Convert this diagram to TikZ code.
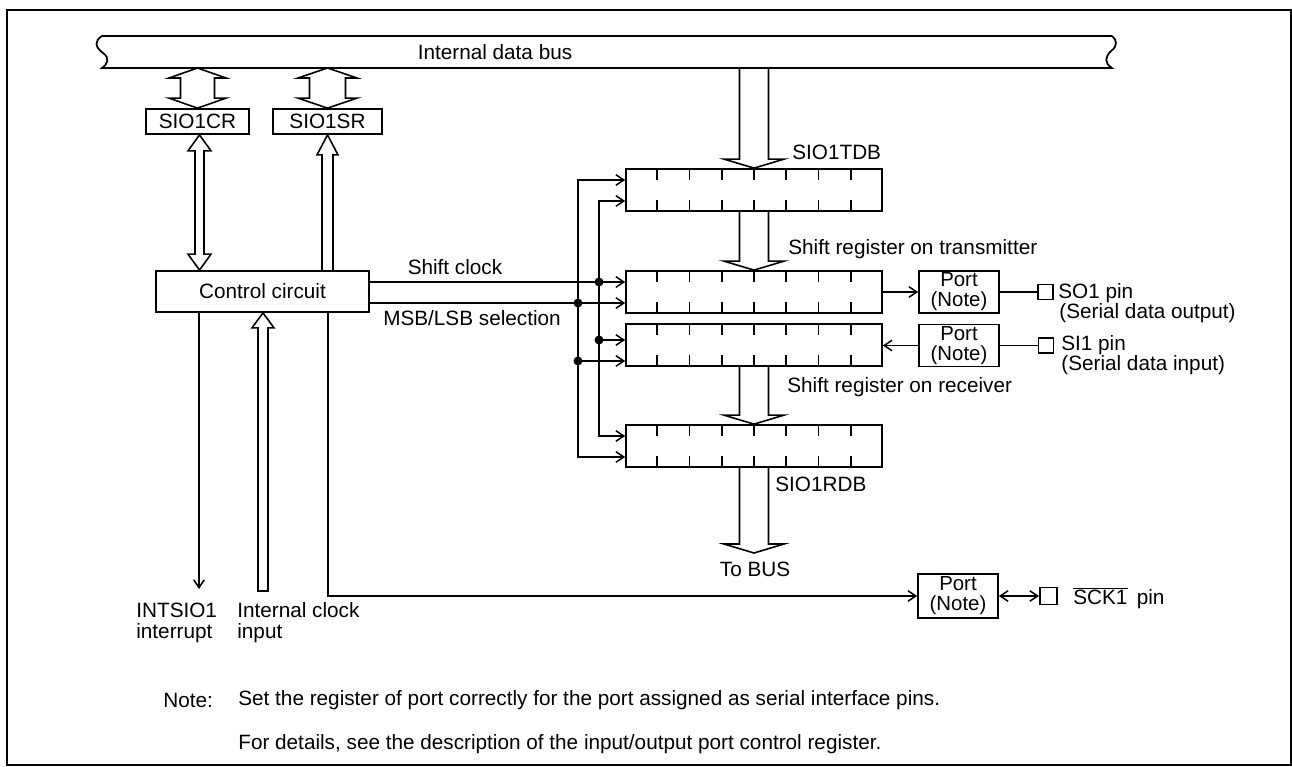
\documentclass[tikz,border=0pt]{standalone}
\usepackage{fontspec}
\setmainfont{Liberation Sans}
\usetikzlibrary{arrows.meta,calc}

\tikzset{
  lbl/.style={font=\fontsize{11.8}{12}\selectfont, inner sep=0pt},
  box/.style={draw, line width=1pt, inner sep=0pt, font=\fontsize{11.8}{12}\selectfont},
  reg/.style={draw, line width=1pt, minimum width=5.12cm, minimum height=0.84cm},
  port/.style={box, align=center, minimum width=1.6cm, minimum height=0.84cm,
    font=\fontsize{11.6}{11.3}\selectfont},
  pin/.style={draw, line width=1.1pt, minimum size=0.3cm, inner sep=0pt},
  hollow/.style={draw, line width=0.9pt},
  wire/.style={line width=0.85pt},
}

% hollow arrow from #1 down to its tip #2 (shaft half, head half, head length)
\newcommand{\fatdown}[5]{%
  \draw[hollow] let \p1=(#1), \p2=(#2) in
    (\x2-#3,\y1) -- (\x2-#3,\y2+#5) -- (\x2-#4,\y2+#5) -- (\x2,\y2)
    -- (\x2+#4,\y2+#5) -- (\x2+#3,\y2+#5) -- (\x2+#3,\y1);}
% hollow arrow from #1 up to its tip #2, #6 closes the tail
\newcommand{\fatup}[6]{%
  \draw[hollow] let \p1=(#1), \p2=(#2) in
    (\x2-#3,\y1) -- (\x2-#3,\y2-#5) -- (\x2-#4,\y2-#5) -- (\x2,\y2)
    -- (\x2+#4,\y2-#5) -- (\x2+#3,\y2-#5) -- (\x2+#3,\y1) #6;}
% hollow arrow with tips #1 (top) and #2 (bottom)
\newcommand{\fatboth}[5]{%
  \draw[hollow] let \p1=(#1), \p2=(#2) in
    (\x1,\y1) -- (\x1+#4,\y1-#5) -- (\x1+#3,\y1-#5) -- (\x1+#3,\y2+#5)
    -- (\x1+#4,\y2+#5) -- (\x1,\y2) -- (\x1-#4,\y2+#5) -- (\x1-#3,\y2+#5)
    -- (\x1-#3,\y1-#5) -- (\x1-#4,\y1-#5) -- cycle;}

\begin{document}
\begin{tikzpicture}[x=0.02cm, y=-0.02cm, >={Straight Barb[length=4.5pt,width=6pt]}]
\useasboundingbox (0,0) rectangle (1292,767);
\draw[line width=1pt] (7,10) rectangle (1291,765);

% internal data bus
\draw[line width=1pt] (1112,36) -- (102,36)
  .. controls (94,41) and (95,47) .. (103,53) .. controls (110,58) and (108,64) .. (102,68)
  -- (1112,68) .. controls (1104,63) and (1105,57) .. (1111,51) .. controls (1118,46) and (1117,40) .. (1112,36);
\node[lbl] (busl) at (495,52) {Internal data bus};
\coordinate (busb) at (0,68);

% registers and boxes
\node[box, minimum width=2.06cm, minimum height=0.5cm] (cr) at (197.5,121.5) {SIO1CR};
\node[box, minimum width=2.18cm, minimum height=0.5cm] (sr) at (327.5,121.5) {SIO1SR};
\node[box, minimum width=4.26cm, minimum height=0.82cm] (ctrl) at (262.5,291.5) {Control circuit};
\node[reg] (tdb) at (754,190) {};
\node[reg] (tx) at (754,292) {};
\node[reg] (rx) at (754,345) {};
\node[reg] (rdb) at (754,446) {};
\foreach \r in {tdb,tx,rx,rdb} {
  \foreach \i in {1,...,7} {
    \draw[line width=1pt] ($(\r.north west)!\i/8!(\r.north east)$) -- ++(0,12);
    \draw[line width=1pt] ($(\r.south west)!\i/8!(\r.south east)$) -- ++(0,-12);
  }
}
\node[port] (ptx) at (959,292) {Port\\(Note)};
\node[port] (prx) at (959,345.5) {Port\\(Note)};
\node[port, minimum height=0.88cm] (psck) at (958,596) {Port\\(Note)};
\node[pin] (so1) at (1045.5,292) {};
\node[pin] (si1) at (1046,345.5) {};
\node[pin, minimum size=0.34cm] (sck) at (1048.5,596) {};

% hollow bus arrows
\fatboth{cr.north |- busb}{cr.north}{0.34cm}{0.57cm}{0.2cm}
\fatboth{sr.north |- busb}{sr.north}{0.36cm}{0.59cm}{0.2cm}
\fatboth{[xshift=0.04cm]cr.south}{[xshift=0.04cm]cr.south |- ctrl.north}{0.09cm}{0.23cm}{0.32cm}
\fatup{sr.south |- ctrl.north}{sr.south}{0.11cm}{0.21cm}{0.4cm}{}
\coordinate (clkin) at (263,591);
\fatup{clkin}{clkin |- ctrl.south}{0.1cm}{0.22cm}{0.3cm}{-- cycle}
\fatdown{tdb.north |- busb}{tdb.north}{0.29cm}{0.6cm}{0.18cm}
\fatdown{tdb.south}{tx.north}{0.29cm}{0.6cm}{0.18cm}
\fatdown{rx.south}{rdb.north}{0.29cm}{0.6cm}{0.18cm}
\coordinate (tobus) at (754,553);
\fatdown{rdb.south}{tobus}{0.29cm}{0.6cm}{0.18cm}

% clock and selection lines
\coordinate (ox) at (578,0);
\coordinate (ix) at (599,0);
\coordinate (tdba) at ([yshift=0.2cm]tdb.west);
\coordinate (tdbb) at ([yshift=-0.22cm]tdb.west);
\coordinate (txa) at ([yshift=0.2cm]tx.west);
\coordinate (txb) at ([yshift=-0.22cm]tx.west);
\coordinate (rxa) at ([yshift=0.1cm]rx.west);
\coordinate (rxb) at ([yshift=-0.32cm]rx.west);
\coordinate (rdba) at ([yshift=0.2cm]rdb.west);
\coordinate (rdbb) at ([yshift=-0.22cm]rdb.west);
\draw[wire,<->] (tdba) -| (ox |- rdbb) -- (rdbb);
\draw[wire,<->] (tdbb) -| (ix |- rdba) -- (rdba);
\draw[wire,->] (ctrl.east |- txa) -- (txa);
\draw[wire,->] (ctrl.east |- txb) -- (txb);
\draw[wire,->] (ix |- rxa) -- (rxa);
\draw[wire,->] (ox |- rxb) -- (rxb);
\foreach \p in {ix |- txa, ox |- txb, ix |- rxa, ox |- rxb}
  \fill (\p) circle (0.09cm);

% ports and pins
\draw[wire,->] (tx.east) -- (ptx.west);
\draw[wire,->] (prx.west) -- (prx.west -| rx.east);
\draw[wire] (ptx.east) -- (so1.west);
\draw[wire] (prx.east) -- (si1.west);
\draw[wire,<->] (psck.east) -- (sck.west);
\coordinate (sckx) at (328,0);
\draw[wire,->] (sckx |- ctrl.south) |- (psck.west);
\coordinate (intx) at (199,589);
\draw[wire,->] (intx |- ctrl.south) -- (intx);

% labels
\node[lbl] (sclk) at (455,267) {Shift clock};
\node[lbl] (msb) at (472,318) {MSB/LSB selection};
\node[lbl, anchor=west] (tdbl) at (792,152) {SIO1TDB};
\node[lbl, anchor=west] (txl) at (788,249) {Shift register on transmitter};
\node[lbl, anchor=west] (rxl) at (787,387) {Shift register on receiver};
\node[lbl, anchor=west] (rdbl) at (775,484) {SIO1RDB};
\node[lbl] (tobusl) at (755,569) {To BUS};
\node[lbl, anchor=west] (so1l) at (1058,293) {SO1 pin};
\node[lbl, anchor=west] (so1d) at (1059,313) {(Serial data output)};
\node[lbl, anchor=west] (si1l) at (1061,345) {SI1 pin};
\node[lbl, anchor=west] (si1d) at (1061,365) {(Serial data input)};
\node[lbl, anchor=west] (sckl) at (1073,598) {$\overline{\mbox{SCK1}}$\hspace{0.45em}pin};
\node[lbl, anchor=north west, align=left] (intl) at (136,602.5) {INTSIO1\\interrupt};
\node[lbl, anchor=north west, align=left] (clkl) at (237,602.5) {Internal clock\\input};
\node[lbl, anchor=west] (note) at (163,700) {Note:};
\node[lbl, anchor=west] (note1) at (238,700) {Set the register of port correctly for the port assigned as serial interface pins.};
\node[lbl, anchor=west] (note2) at (238,744) {For details, see the description of the input/output port control register.};
\end{tikzpicture}
\end{document}
